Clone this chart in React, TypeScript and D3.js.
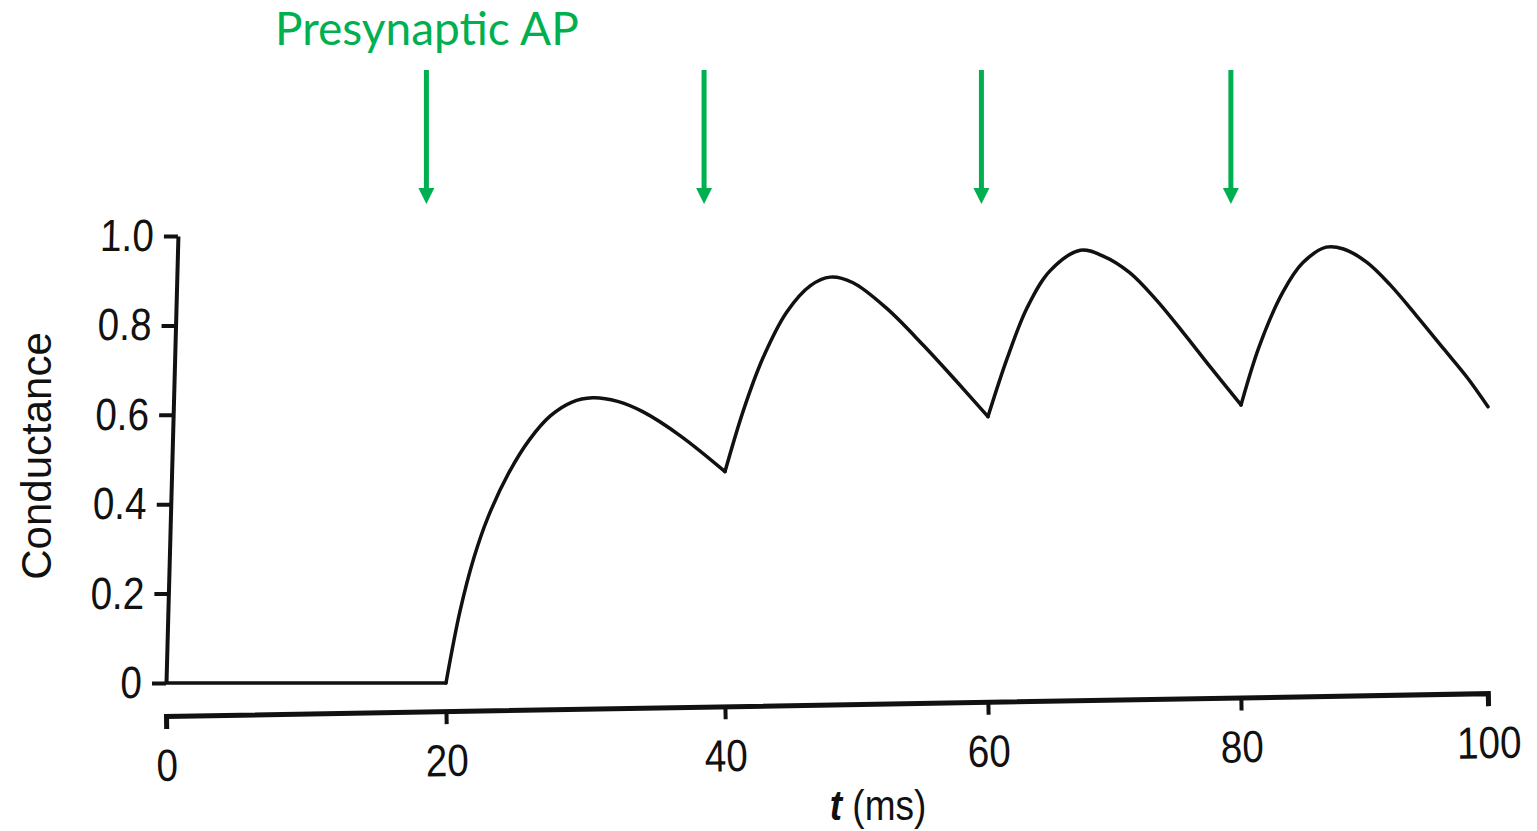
import { useRef, useEffect, RefObject } from 'react';
import * as d3 from 'd3';

// conductance trace (t in ms, g normalised)
const tMs = [
  0, 20,
  21, 22, 23, 24.5, 26, 27.5, 29, 30.5, 32.3, 34.1, 36.8, 40,
  41.4, 42.9, 44.7, 46.5, 48, 49.7, 52.3, 55.1, 57.6, 60,
  61.5, 63.1, 64.9, 67.3, 69.1, 71.2, 73.3, 75.4, 77.6, 80,
  81.5, 83.4, 85, 86.9, 88.3, 90.2, 92.1, 94.2, 96.4, 98.3, 100,
];
const conductance = [
  0, 0,
  0.16, 0.28, 0.37, 0.47, 0.545, 0.598, 0.628, 0.638, 0.63, 0.607, 0.553, 0.473,
  0.61, 0.728, 0.83, 0.889, 0.908, 0.896, 0.838, 0.755, 0.675, 0.596,
  0.725, 0.84, 0.922, 0.968, 0.955, 0.918, 0.857, 0.785, 0.706, 0.622,
  0.755, 0.875, 0.94, 0.975, 0.971, 0.941, 0.89, 0.822, 0.748, 0.684, 0.618,
];
const pulseTimes = [20, 40, 60, 80];
const arrowTimes = [18.6, 38.5, 59.5, 79.2];
const xTicks = [0, 20, 40, 60, 80, 100];
const yTicks = [0, 0.2, 0.4, 0.6, 0.8, 1.0];

const W = 1537;
const H = 831;
const GREEN = '#00b050';
const SANS = "'Liberation Sans', Arial, sans-serif";

// no narrow face installed, so squeeze the glyphs a little
const condense = (sel: d3.Selection<any, any, any, any>, k: number) => {
  sel.each(function () {
    const el = this as SVGTextElement;
    const w = el.getComputedTextLength();
    el.setAttribute('textLength', String(w * k));
    el.setAttribute('lengthAdjust', 'spacingAndGlyphs');
  });
};

const App = () => {
  const svgRef: RefObject<SVGSVGElement> = useRef(null);

  useEffect(() => {
    const svg = d3.select(svgRef.current);
    svg.selectAll('*').remove();

    // the scan is a bit warped, so x is piecewise between the ticks
    const x = d3.scaleLinear().domain(xTicks).range([166, 446, 725, 988, 1241, 1488]);
    const y = d3.scaleLinear().domain([0, 1]).range([683, 236]);

    // split the trace at every pulse so the corners stay sharp
    const pts = tMs.map((t, i) => [t, conductance[i]] as [number, number]);
    const segments: [number, number][][] = [];
    let cur: [number, number][] = [];
    pts.forEach((p) => {
      cur.push(p);
      if (pulseTimes.includes(p[0])) {
        segments.push(cur);
        cur = [p];
      }
    });
    if (cur.length > 1) segments.push(cur);

    const line = d3
      .line<[number, number]>()
      .x((d) => x(d[0]))
      .y((d) => y(d[1]))
      .curve(d3.curveCatmullRom.alpha(0.5));

    svg
      .append('g')
      .attr('fill', 'none')
      .attr('stroke', '#111')
      .attr('stroke-width', 3.5)
      .attr('stroke-linejoin', 'round')
      .attr('stroke-linecap', 'round')
      .selectAll('path')
      .data(segments)
      .join('path')
      .attr('d', (d) => line(d));

    // y axis, leaning slightly like in the scan
    const yAxis = svg
      .append('g')
      .attr('transform', `translate(${x(0)},${y(0)}) skewX(-1.53) translate(0,${-y(0)})`)
      .call(
        d3
          .axisLeft(y)
          .tickValues(yTicks)
          .tickFormat((d) => (d === 0 ? '0' : d3.format('.1f')(d as number)))
          .tickSize(14)
          .tickSizeOuter(0)
          .tickPadding(10)
      );
    yAxis.select('.domain').attr('stroke', '#111').attr('stroke-width', 4);
    yAxis.selectAll('.tick line').attr('stroke', '#111').attr('stroke-width', 4);
    const yText = yAxis
      .selectAll('.tick text')
      .attr('fill', '#111')
      .attr('font-family', SANS)
      .attr('font-size', 45);
    condense(yText, 0.86);

    // x axis sits below the trace and is tilted
    const xAxis = svg
      .append('g')
      .attr('transform', `translate(0,716) rotate(-0.99, ${x(0)}, 0)`)
      .call(
        d3
          .axisBottom(x)
          .tickValues(xTicks)
          .tickFormat(d3.format('d'))
          .tickSize(13)
          .tickSizeOuter(13)
          .tickPadding(20)
      );
    xAxis.select('.domain').attr('stroke', '#111').attr('stroke-width', 5);
    xAxis.selectAll('.tick line').attr('stroke', '#111').attr('stroke-width', 4);
    const xText = xAxis
      .selectAll('.tick text')
      .attr('fill', '#111')
      .attr('font-family', SANS)
      .attr('font-size', 45);
    condense(xText, 0.86);

    const xl = svg
      .append('text')
      .attr('x', 878)
      .attr('y', 820)
      .attr('text-anchor', 'middle')
      .attr('font-family', SANS)
      .attr('font-size', 43)
      .attr('fill', '#111');
    xl.append('tspan').attr('font-style', 'italic').attr('font-weight', 'bold').text('t');
    xl.append('tspan').text(' (ms)');
    condense(xl, 0.86);

    svg
      .append('text')
      .attr('transform', 'translate(36,456) rotate(-90)')
      .attr('text-anchor', 'middle')
      .attr('dominant-baseline', 'central')
      .attr('font-family', SANS)
      .attr('font-size', 42)
      .attr('fill', '#111')
      .text('Conductance');

    // presynaptic spikes
    svg
      .append('text')
      .attr('x', 275)
      .attr('y', 45)
      .attr('font-family', "Lato, 'Open Sans', sans-serif")
      .attr('font-size', 46)
      .attr('fill', GREEN)
      .text('Presynaptic AP');

    const arrows = svg
      .append('g')
      .selectAll('g')
      .data(arrowTimes)
      .join('g')
      .attr('transform', (d) => `translate(${x(d)},0)`);
    arrows
      .append('line')
      .attr('y1', 70)
      .attr('y2', 190)
      .attr('stroke', GREEN)
      .attr('stroke-width', 5);
    arrows
      .append('path')
      .attr('d', 'M-8,188 L8,188 L0,204 Z')
      .attr('fill', GREEN);
  }, []);

  return (
    <svg
      ref={svgRef}
      width={W}
      height={H}
      style={{ position: 'absolute', left: 0, top: 0, background: '#fff' }}
    ></svg>
  );
};

export default App;
